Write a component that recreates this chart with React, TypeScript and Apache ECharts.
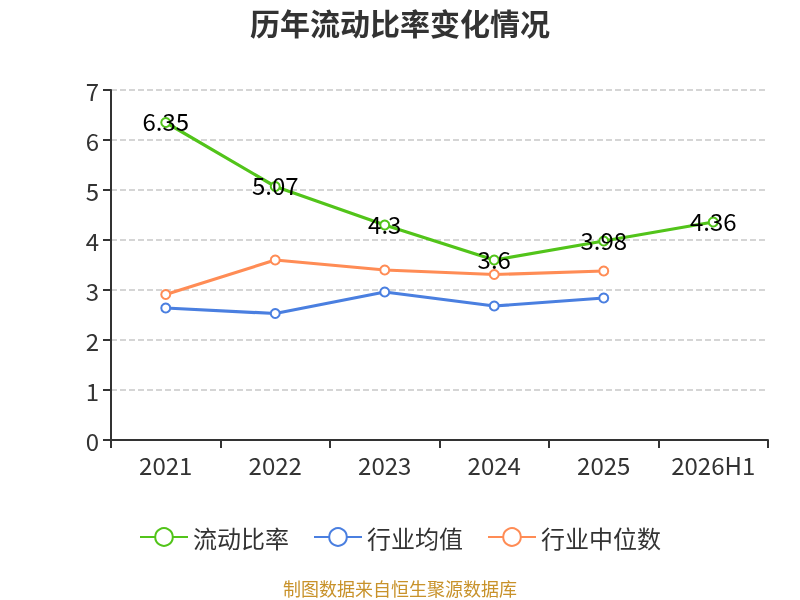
import React, { useEffect, useRef } from "react";
import * as echarts from "echarts";

const categories = ["2021", "2022", "2023", "2024", "2025", "2026H1"];
const currentRatio = [6.35, 5.07, 4.3, 3.6, 3.98, 4.36];
const industryMean = [2.64, 2.53, 2.96, 2.68, 2.84, null];
const industryMedian = [2.91, 3.6, 3.4, 3.31, 3.38, null];
const seriesNames = ["流动比率", "行业均值", "行业中位数"];
const colors = ["#52c41a", "#4a7fe0", "#ff8c55"];

export default function App() {
  const ref = useRef<HTMLDivElement>(null);
  useEffect(() => {
    if (!ref.current) return;
    const chart = echarts.init(ref.current, undefined, { renderer: "svg" });
    const font = "'Noto Sans CJK SC', 'Noto Sans', sans-serif";
    const lineSeries = (name: string, data: any[], color: string, label: boolean) => ({
      name,
      type: "line",
      data,
      symbol: "emptyCircle",
      symbolSize: 9,
      lineStyle: { width: 3.2, color },
      itemStyle: { color, borderWidth: 2 },
      label: label
        ? { show: true, position: "inside", color: "#000", fontSize: 24, fontFamily: font, offset: [0, -2] }
        : { show: false },
    });
    chart.setOption({
      animation: false,
      textStyle: { fontFamily: font },
      color: colors,
      title: {
        text: "历年流动比率变化情况",
        left: "center",
        top: 2,
        textStyle: { fontSize: 30, fontWeight: "bold", color: "#333", fontFamily: font },
      },
      legend: {
        top: 520,
        left: "center",
        itemWidth: 48,
        itemHeight: 22,
        itemGap: 24,
        textStyle: { fontSize: 24, color: "#333", fontFamily: font },
        data: seriesNames,
      },
      graphic: [
        {
          type: "text",
          left: "center",
          top: 579,
          style: { text: "制图数据来自恒生聚源数据库", fill: "#c8922a", fontSize: 18, fontFamily: font },
        },
      ],
      grid: { left: 111, right: 32, top: 90, bottom: 160 },
      xAxis: {
        type: "category",
        data: categories,
        boundaryGap: true,
        axisLine: { lineStyle: { color: "#333", width: 2 } },
        axisTick: { show: true, lineStyle: { color: "#333", width: 2 }, length: 8 },
        axisLabel: { fontSize: 24, color: "#333", margin: 12, fontFamily: font },
      },
      yAxis: {
        type: "value",
        min: 0,
        max: 7,
        interval: 1,
        axisLine: { show: true, lineStyle: { color: "#333", width: 2 } },
        axisTick: { show: true, lineStyle: { color: "#333", width: 2 }, length: 8 },
        axisLabel: { fontSize: 24, color: "#333", margin: 12, fontFamily: font },
        splitLine: { show: true, lineStyle: { type: "dashed", color: "#c8c8c8", width: 1.5 } },
      },
      series: [
        lineSeries(seriesNames[0], currentRatio, colors[0], true),
        lineSeries(seriesNames[1], industryMean, colors[1], false),
        lineSeries(seriesNames[2], industryMedian, colors[2], false),
      ],
    });
    return () => chart.dispose();
  }, []);
  return <div ref={ref} style={{ position: "fixed", left: 0, top: 0, width: 800, height: 600 }} />;
}
